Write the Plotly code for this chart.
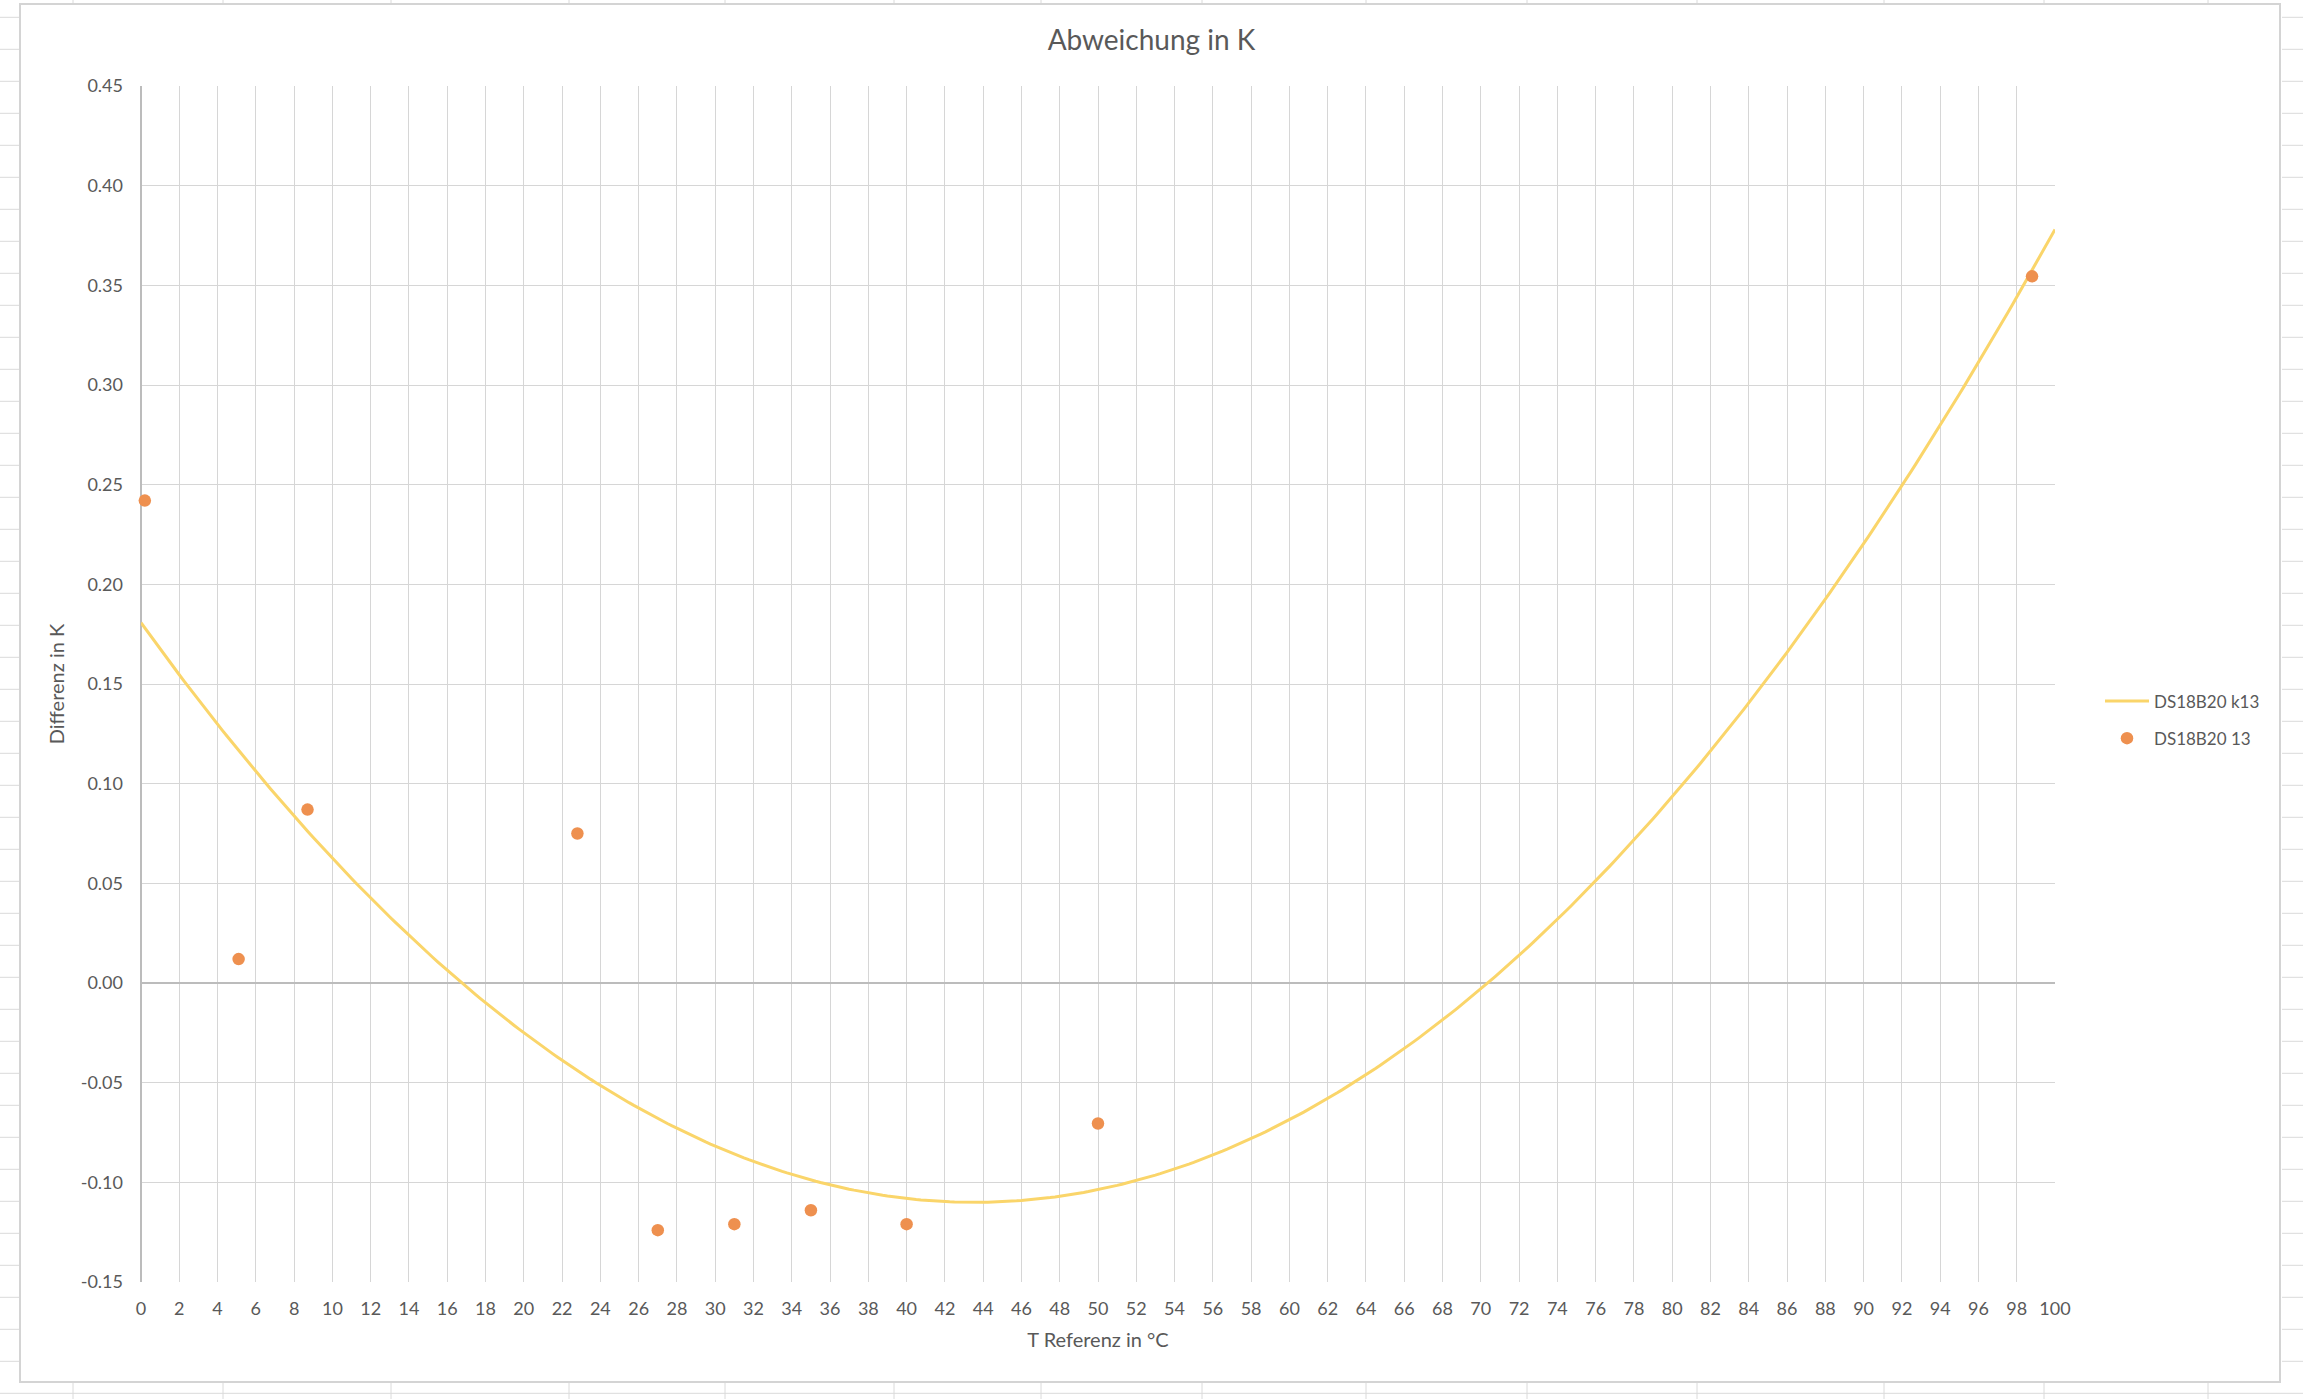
import numpy as np
import plotly.graph_objects as go

# ---------------- data ----------------
t_ref = [0.2, 5.1, 8.7, 22.8, 27.0, 31.0, 35.0, 40.0, 50.0, 98.8]
diff_k = [0.242, 0.012, 0.087, 0.075, -0.124, -0.121, -0.114, -0.121, -0.0705, 0.3545]

series_points_name = "DS18B20 13"
series_trend_name = "DS18B20 k13"

x_tick_vals = list(range(0, 101, 2))
x_tick_labels = [str(v) for v in x_tick_vals]
y_tick_vals = [0.45, 0.40, 0.35, 0.30, 0.25, 0.20, 0.15, 0.10, 0.05, 0.00,
               -0.05, -0.10, -0.15]
y_tick_labels = ["0.45", "0.40", "0.35", "0.30", "0.25", "0.20", "0.15", "0.10",
                 "0.05", "0.00", "-0.05", "-0.10", "-0.15"]

# ---------------- polynomial (order 2) trendline, like Excel ----------------
coef = np.polyfit(t_ref, diff_k, 2)
trend_x = np.linspace(0, 100, 401)
trend_y = np.polyval(coef, trend_x)

# ---------------- layout geometry ----------------
W, H = 2303, 1399
ML, MR, MT, MB = 141, 248, 86, 117
PW = W - ML - MR
PH = H - MT - MB

FONT = "Lato, 'Open Sans', sans-serif"
TXT = "#595959"
GRID = "#d6d6d6"
AXIS = "#bcbcbc"
YELLOW = "#FAD56A"
ORANGE = "#EE904F"


def pxx(px):
    return (px - ML) / PW


def pxy(py):
    return (H - MB - py) / PH


fig = go.Figure()

fig.add_trace(go.Scatter(
    x=trend_x, y=trend_y, mode="lines", name=series_trend_name,
    line=dict(color=YELLOW, width=3), legendgroup="a",
    hoverinfo="skip", cliponaxis=False,
))
fig.add_trace(go.Scatter(
    x=t_ref, y=diff_k, mode="markers", name=series_points_name,
    marker=dict(color=ORANGE, size=12.5), legendgroup="b",
    cliponaxis=False,
))

# ---------------- decorative spreadsheet background ----------------
shapes = []
shapes.append(dict(type="rect", xref="paper", yref="paper",
                   x0=pxx(20), x1=pxx(2280), y0=pxy(1382), y1=pxy(4),
                   line=dict(color="#d4d4d4", width=2), fillcolor="rgba(0,0,0,0)",
                   layer="below"))
row_path = []
for k in range(0, 44):
    y = 17.3 + 32 * k
    if y > 1385:
        row_path.append(f"M{pxx(0)},{pxy(y)} L{pxx(W)},{pxy(y)}")
    else:
        row_path.append(f"M{pxx(0)},{pxy(y)} L{pxx(19)},{pxy(y)}")
        row_path.append(f"M{pxx(2282)},{pxy(y)} L{pxx(W)},{pxy(y)}")
shapes.append(dict(type="path", xref="paper", yref="paper", path=" ".join(row_path),
                   line=dict(color="#dadada", width=1), layer="below"))
col_x = [73, 223, 391, 569, 725, 894, 1041, 1202, 1366, 1527, 1697, 1884, 2044, 2208]
col_path = []
for cx in col_x:
    col_path.append(f"M{pxx(cx)},{pxy(0)} L{pxx(cx)},{pxy(3)}")
    col_path.append(f"M{pxx(cx)},{pxy(1383)} L{pxx(cx)},{pxy(H)}")
shapes.append(dict(type="path", xref="paper", yref="paper", path=" ".join(col_path),
                   line=dict(color="#dadada", width=1), layer="below"))

fig.update_layout(
    width=W, height=H,
    margin=dict(l=ML, r=MR, t=MT, b=MB, pad=0),
    paper_bgcolor="white", plot_bgcolor="white",
    font=dict(family=FONT, color=TXT, size=18),
    title=dict(text="Abweichung in K", x=0.5, xref="container", xanchor="center",
               y=1 - 40 / H, yanchor="middle",
               font=dict(family=FONT, size=28, color=TXT)),
    showlegend=True,
    legend=dict(x=pxx(2100), xanchor="left", y=pxy(720), yanchor="middle",
                font=dict(family=FONT, size=17, color=TXT), itemwidth=44,
                tracegroupgap=12, bgcolor="rgba(0,0,0,0)"),
    shapes=shapes,
    xaxis=dict(range=[0, 100], tickmode="array", tickvals=x_tick_vals,
               ticktext=x_tick_labels, showgrid=True, gridcolor=GRID, gridwidth=1.3,
               zeroline=True, zerolinecolor=AXIS, zerolinewidth=1.6,
               showline=False, ticks="", ticklabelstandoff=14,
               tickfont=dict(family=FONT, size=18, color=TXT),
               title=dict(text="T Referenz in °C", standoff=14,
                          font=dict(family=FONT, size=20, color=TXT))),
    yaxis=dict(range=[-0.15, 0.45], tickmode="array", tickvals=y_tick_vals,
               ticktext=y_tick_labels, showgrid=True, gridcolor=GRID, gridwidth=1.3,
               zeroline=True, zerolinecolor=AXIS, zerolinewidth=1.6,
               showline=False, ticks="", ticklabelstandoff=17,
               tickfont=dict(family=FONT, size=18, color=TXT),
               title=dict(text="Differenz in K", standoff=10,
                          font=dict(family=FONT, size=20, color=TXT))),
)

fig.write_html("out.html",
               config={"displayModeBar": False},
               post_script="document.body.style.margin='0';document.body.style.overflow='hidden';")
